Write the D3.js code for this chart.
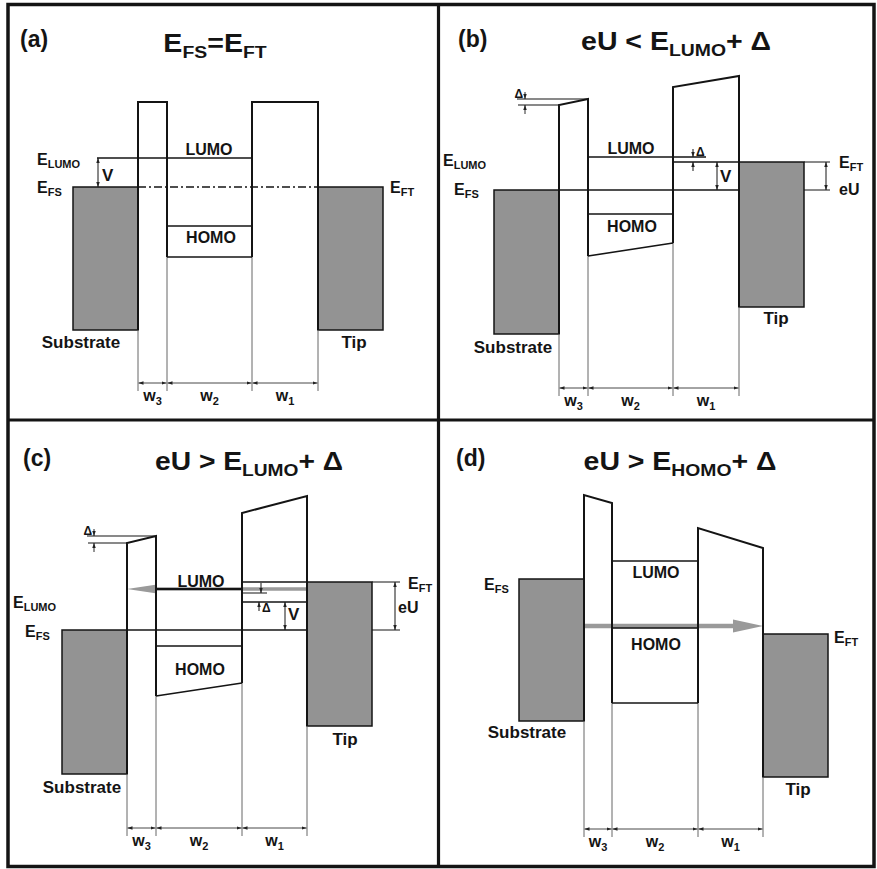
<!DOCTYPE html>
<html><head><meta charset="utf-8">
<script src="https://cdn.jsdelivr.net/npm/d3@7"></script>
<style>
body{margin:0;background:#fff}
svg{display:block}
text{font-family:"Liberation Sans",Arial,Helvetica,sans-serif;font-weight:bold;fill:#141414}
</style>
</head><body>
<svg id="c" width="877" height="869"></svg>
<script>
// ---------- data (diagram units) ----------
const panelIds = ["(a)", "(b)", "(c)", "(d)"];
const titles = [
  [["E", 0], ["FS", 1], ["=E", 0], ["FT", 1]],
  [["eU < E", 0], ["LUMO", 1], ["+ \u0394", 0]],
  [["eU > E", 0], ["LUMO", 1], ["+ \u0394", 0]],
  [["eU > E", 0], ["HOMO", 1], ["+ \u0394", 0]]
];
// substrate left, barrier1 left, barrier1 right, barrier2 left, barrier2 right, tip right
const xEdges = [
  [73, 138, 167, 252, 318, 383],
  [58, 123, 152, 237, 303, 368],
  [62, 127, 156, 242, 307, 372],
  [83, 148, 176, 262, 327, 392]
];
const barrier1Top = [[102, 102], [105, 99], [123, 116], [75, 83]];
const barrier2Top = [[102, 102], [87, 76], [93, 76], [108, 128]];
const lumoLevel = [158, 157, 169, 141];
const efsLevel = [187, 190, 210, 159];
const eftLevel = [187, 162, 162, 214];
const homoTop = [226, 214, 226, 208];
const homoBottom = [[257, 257], [256, 243], [276, 263], [283, 283]];
const substrateBottom = [330, 334, 354, 301];
const tipBottom = [330, 307, 306, 357];
const dimLevel = [383, 388, 408, 409];
const tunnelLevel = [null, null, 169, 206];
const widthLabels = [["w", "3"], ["w", "2"], ["w", "1"]];

// ---------- drawing ----------
const svg = d3.select("#c");
const origins = [[0, 0], [436, 0], [0, 420], [436, 420]];
const defs = svg.append("defs");
defs.append("marker").attr("id", "ah").attr("viewBox", "0 0 10 10")
  .attr("refX", 10).attr("refY", 5).attr("markerWidth", 5).attr("markerHeight", 5)
  .attr("markerUnits", "userSpaceOnUse").attr("orient", "auto-start-reverse")
  .append("path").attr("d", "M0,1.5L10,5L0,8.5Z").attr("fill", "#222");

const INK = "#141414", GREY = "#939393";

function rich(g, x, y, segs, size, subSize, anchor, subDy) {
  const t = g.append("text").attr("x", x).attr("y", y)
    .attr("font-size", size).attr("text-anchor", anchor || "start");
  let cur = 0;
  segs.forEach(([s, sub]) => {
    const want = sub ? subDy : 0;
    t.append("tspan").attr("dy", want - cur).attr("font-size", sub ? subSize : size).text(s);
    cur = want;
  });
  return t;
}

panelIds.forEach((pid, i) => {
  const [ox, oy] = origins[i];
  const x = d3.scaleLinear().domain([0, 438]).range([ox, ox + 438]);
  const y = d3.scaleLinear().domain([0, 420]).range([oy, oy + 420]);
  const g = svg.append("g");
  const [sL, b1L, b1R, b2L, b2R, tR] = xEdges[i];
  const line = (x1, y1, x2, y2, w, col, extra) => {
    const l = g.append("line").attr("x1", x(x1)).attr("y1", y(y1)).attr("x2", x(x2)).attr("y2", y(y2))
      .attr("stroke", col || INK).attr("stroke-width", w || 1.3);
    if (extra) extra(l);
    return l;
  };
  const dbl = l => l.attr("marker-start", "url(#ah)").attr("marker-end", "url(#ah)");
  const one = l => l.attr("marker-end", "url(#ah)");

  // electrodes
  g.append("rect").attr("x", x(sL)).attr("y", y(efsLevel[i]))
    .attr("width", x(b1L) - x(sL)).attr("height", y(substrateBottom[i]) - y(efsLevel[i]))
    .attr("fill", GREY).attr("stroke", INK).attr("stroke-width", 1.5);
  g.append("rect").attr("x", x(b2R)).attr("y", y(eftLevel[i]))
    .attr("width", x(tR) - x(b2R)).attr("height", y(tipBottom[i]) - y(eftLevel[i]))
    .attr("fill", GREY).attr("stroke", INK).attr("stroke-width", 1.5);

  // thin extension lines down to the width dimension
  const dim = dimLevel[i];
  const wallEnds = [substrateBottom[i], homoBottom[i][0], homoBottom[i][1], tipBottom[i]];
  [b1L, b1R, b2L, b2R].forEach((xx, k) => line(xx, wallEnds[k], xx, dim + 8, 0.9, "#555"));

  // tunnelling arrow (grey)
  if (tunnelLevel[i] !== null) {
    const ty = tunnelLevel[i];
    const from = i === 2 ? b2R : b1L, to = i === 2 ? b1L : b2R;
    const dir = Math.sign(to - from);
    const headLen = 30, half = i === 2 ? 4.5 : 6.5;
    line(from, ty, to - dir * headLen, ty, i === 2 ? 3.5 : 4.5, "#9a9a9a");
    g.append("path").attr("d",
      `M${x(to)},${y(ty)}L${x(to - dir * headLen)},${y(ty) - half}L${x(to - dir * headLen)},${y(ty) + half}Z`)
      .attr("fill", "#9a9a9a");
  }

  // barriers
  g.append("path").attr("d",
    `M${x(b1L)},${y(wallEnds[0])}V${y(barrier1Top[i][0])}L${x(b1R)},${y(barrier1Top[i][1])}V${y(wallEnds[1])}`)
    .attr("fill", "none").attr("stroke", INK).attr("stroke-width", 2);
  g.append("path").attr("d",
    `M${x(b2L)},${y(wallEnds[2])}V${y(barrier2Top[i][0])}L${x(b2R)},${y(barrier2Top[i][1])}V${y(wallEnds[3])}`)
    .attr("fill", "none").attr("stroke", INK).attr("stroke-width", 2);

  // molecular levels
  line(b1R, homoTop[i], b2L, homoTop[i], 1.6);
  line(b1R, homoBottom[i][0], b2L, homoBottom[i][1], 1.6);

  const Lv = lumoLevel[i], Es = efsLevel[i], Et = eftLevel[i];
  if (i === 0) {
    line(97, Lv, b2L, Lv, 1.4);
    line(98, Lv, 98, Es, 1, INK, dbl);
    line(b1L, Es, b2R, Es, 1.4, INK, l => l.attr("stroke-dasharray", "8,3,2,3"));
  } else if (i === 1) {
    line(b1R, Lv, 270, Lv, 1.3);
    line(b2L, Et, b2R, Et, 1.3);
    line(tR, Et, 394, Et, 1);
    line(b1L, Es, b2R, Es, 1.3);
    line(tR, Es, 394, Es, 1);
    line(257, Lv - 8, 257, Lv, 1, INK, one);
    line(257, Et + 9, 257, Et, 1, INK, one);
    line(281, Et, 281, Es, 1, INK, dbl);
    line(390, Et, 390, Es, 1, INK, dbl);
  } else if (i === 2) {
    line(b1R, Lv, b2L, Lv, 2.2);
    line(b2L, Et, b2R, Et, 1.3);
    line(tR, Et, 400, Et, 1);
    line(b2L, 173, 267, 173, 1);
    line(261, Et + 1, 261, 173, 1, INK, one);
    line(b2L, 182, b2R, 182, 1.3);
    line(259, 191, 259, 182, 1, INK, one);
    line(285, 182, 285, Es, 1, INK, dbl);
    line(b1L, Es, b2R, Es, 1.3);
    line(tR, Es, 400, Es, 1);
    line(395, Et, 395, Es, 1, INK, dbl);
  } else {
    line(b1R, Lv, b2L, Lv, 1.6);
  }
  // Δ at the thin barrier top (b, c)
  if (i === 1 || i === 2) {
    const tL = barrier1Top[i][0], tRr = barrier1Top[i][1];
    const ax = i === 1 ? 89 : 94, lx = i === 1 ? 81 : 87;
    line(lx, tRr, b1R, tRr, 1.2);
    line(lx + 1, tL, b1L, tL, 1.2);
    line(ax, tRr - 7, ax, tRr, 0.9, INK, one);
    line(ax, tL + 9, ax, tL, 0.9, INK, one);
    g.append("text").attr("x", x(ax - 2)).attr("y", y(tRr - 1)).attr("font-size", 12)
      .attr("font-weight", "normal").attr("text-anchor", "end").text("\u0394");
  }
  if (i === 1) g.append("text").attr("x", x(260)).attr("y", y(156)).attr("font-size", 12)
    .attr("font-weight", "normal").text("\u0394");
  if (i === 2) g.append("text").attr("x", x(262)).attr("y", y(192)).attr("font-size", 12)
    .attr("font-weight", "normal").text("\u0394");

  // width dimension arrows
  const segs = [[b1L, b1R], [b1R, b2L], [b2L, b2R]];
  segs.forEach(([a, b], k) => {
    line(a + 0.5, dim, b - 0.5, dim, 0.9, "#333", dbl);
    rich(g, x((a + b) / 2), y(dim + 18), [[widthLabels[k][0], 0], [widthLabels[k][1], 1]], 16, 11, "middle", 4);
  });

  // panel id and title
  const idPos = [[20, 47], [22, 47], [23, 46], [20, 46]][i];
  g.append("text").attr("x", x(idPos[0])).attr("y", y(idPos[1])).attr("font-size", 23).text(pid);
  const tPos = [[215, 52, 104], [240, 50, 190], [249, 50, 188], [244, 50, 193]][i];
  const tt = rich(g, 0, 0, titles[i], 25, 17, "middle", 6);
  const bw = tt.node().getBBox().width;
  tt.attr("transform", `translate(${x(tPos[0])},${y(tPos[1])}) scale(${tPos[2] / bw},1)`);

  // labels
  const E = (px, py, sub) => rich(g, x(px), y(py), [["E", 0], [sub, 1]], 16, 11, "start", 3);
  const T = (px, py, s, size, anchor) => g.append("text").attr("x", x(px)).attr("y", y(py))
    .attr("font-size", size).attr("text-anchor", anchor || "middle").text(s);
  if (i === 0) {
    E(37, 165, "LUMO"); E(37, 193, "FS"); E(390, 193, "FT");
    T(102, 181, "V", 17, "start");
    T(209, 155, "LUMO", 16); T(211, 243, "HOMO", 16);
    T(81, 348, "Substrate", 17); T(354, 348, "Tip", 17);
  } else if (i === 1) {
    E(7, 166, "LUMO"); E(18, 195, "FS"); E(403, 168, "FT");
    T(403, 195, "eU", 16, "start"); T(284, 182, "V", 17, "start");
    T(195, 154, "LUMO", 16); T(196, 232, "HOMO", 16);
    T(77, 353, "Substrate", 17); T(340, 324, "Tip", 17);
  } else if (i === 2) {
    E(13, 188, "LUMO"); E(25, 217, "FS"); E(408, 169, "FT");
    T(398, 193, "eU", 16, "start"); T(288, 200, "V", 17, "start");
    T(201, 167, "LUMO", 16); T(200, 255, "HOMO", 16);
    T(82, 373, "Substrate", 17); T(345, 325, "Tip", 17);
  } else {
    E(48, 170, "FS"); E(398, 223, "FT");
    T(220, 158, "LUMO", 16); T(220, 230, "HOMO", 16);
    T(91, 318, "Substrate", 17); T(362, 375, "Tip", 17);
  }
});

// frame
svg.append("rect").attr("x", 8).attr("y", 4.5).attr("width", 866).attr("height", 862)
  .attr("fill", "none").attr("stroke", INK).attr("stroke-width", 3.5);
svg.append("line").attr("x1", 438.5).attr("x2", 438.5).attr("y1", 4).attr("y2", 866)
  .attr("stroke", INK).attr("stroke-width", 3.2);
svg.append("line").attr("x1", 8).attr("x2", 874).attr("y1", 420).attr("y2", 420)
  .attr("stroke", INK).attr("stroke-width", 3.2);
</script>
</body></html>
